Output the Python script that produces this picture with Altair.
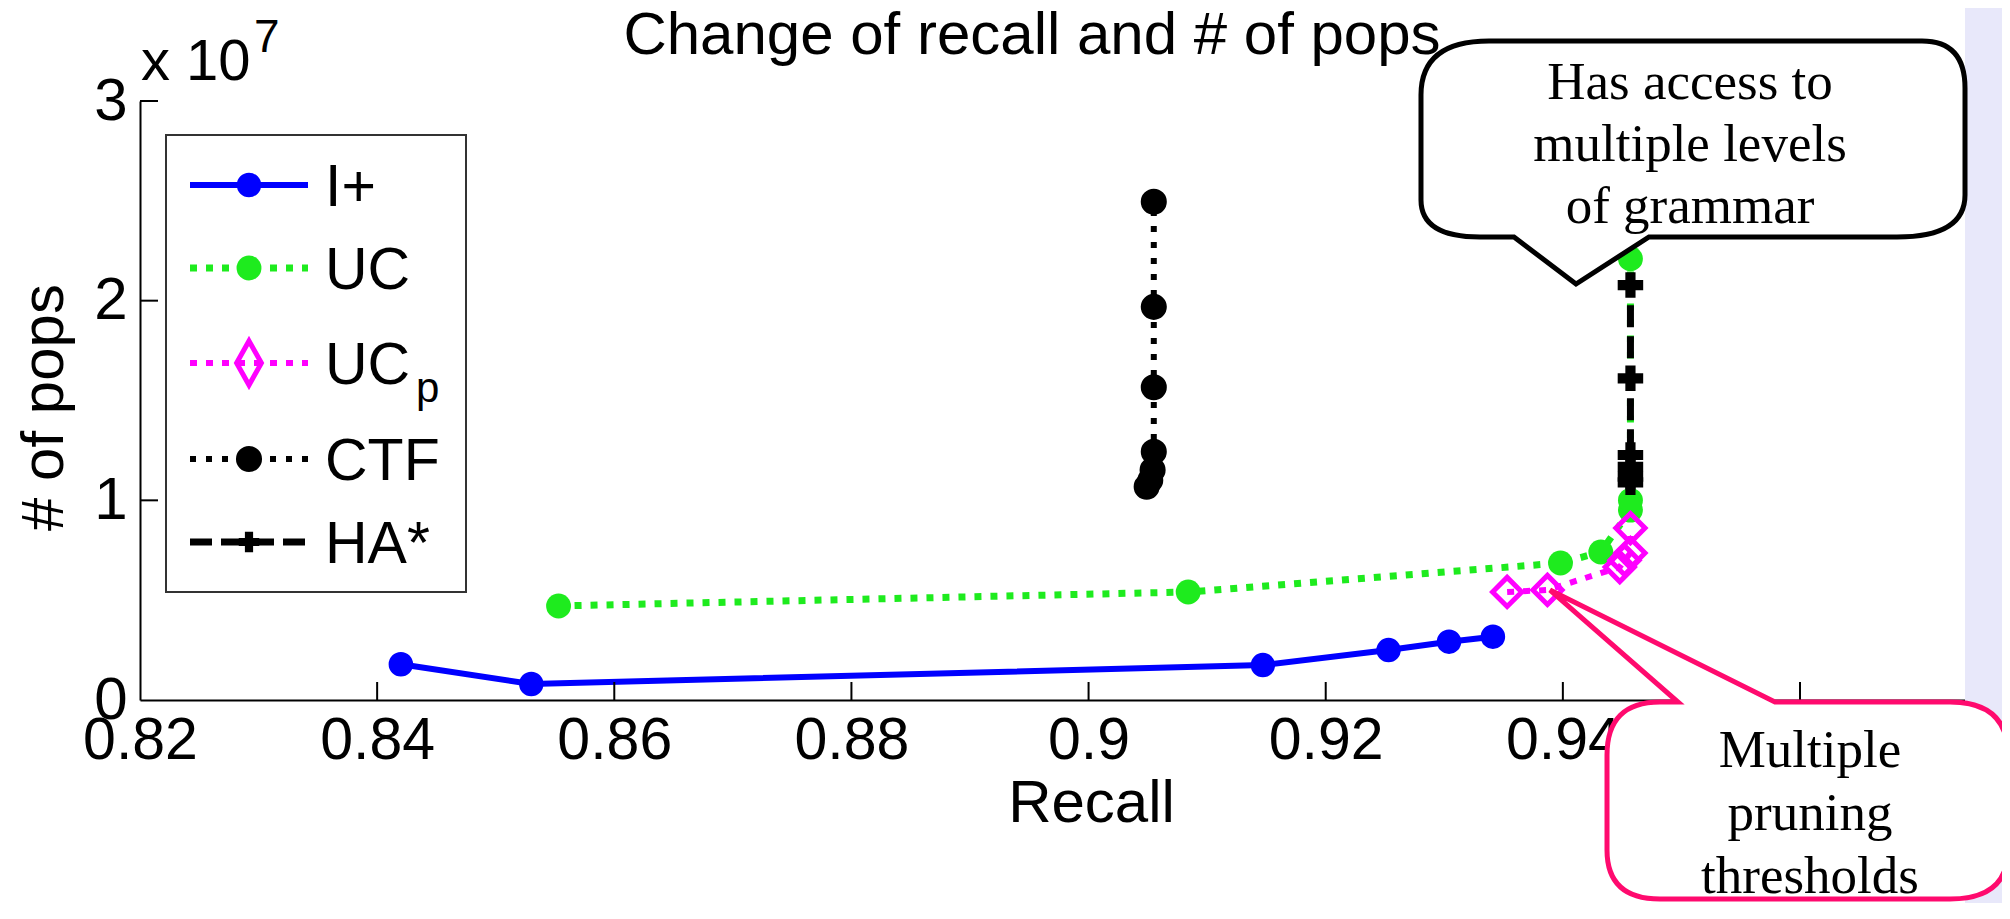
import altair as alt
import pandas as pd

# ---------------- data (recall, # of pops in units of 10^7) ----------------
series_names = ["I+", "UC", "UCp", "CTF", "HA*"]

ip_recall = [0.8420, 0.8530, 0.9147, 0.9253, 0.9304, 0.9341]
ip_pops = [0.179, 0.080, 0.175, 0.250, 0.292, 0.317]

uc_recall = [0.8553, 0.9084, 0.9398, 0.9432, 0.9457, 0.9457, 0.9457]
uc_pops = [0.471, 0.541, 0.686, 0.741, 0.951, 1.000, 2.210]

ucp_recall = [0.9353, 0.9387, 0.9448, 0.9452, 0.9457, 0.9457]
ucp_pops = [0.541, 0.551, 0.666, 0.700, 0.736, 0.861]

ctf_recall = [0.9049, 0.9052, 0.9054, 0.9055, 0.9055, 0.9055, 0.9055]
ctf_pops = [1.068, 1.100, 1.152, 1.243, 1.566, 1.969, 2.495]

ha_recall = [0.9457, 0.9457, 0.9457, 0.9457, 0.9457, 0.9457]
ha_pops = [1.090, 1.118, 1.168, 1.227, 1.611, 2.078]

x_tick_values = [0.82, 0.84, 0.86, 0.88, 0.90, 0.92, 0.94, 0.96]
y_tick_values = [0, 1, 2, 3]

# ---------------- layout / style ----------------
FONT = "Liberation Sans"
SERIF = "Liberation Serif"
W, H = 1826, 599
PAD_L, PAD_T = 132, 93
PAD_R = 1994 - PAD_L - W
PAD_B = 895 - PAD_T - H
OX, OY = 8 + PAD_L, 8 + PAD_T  # page position of plot origin


def px(X):
    return X - OX


def py(Y):
    return Y - OY


styles = {
    "I+": dict(color="#0000FF", dash=None, width=6, shape="circle", filled=True, size=600),
    "UC": dict(color="#1EEB1E", dash=[7, 9], width=7, shape="circle", filled=True, size=620),
    "UCp": dict(color="#FF00FF", dash=[7, 9], width=6, shape="diamond", filled=False, size=850),
    "CTF": dict(color="#000000", dash=[6, 10], width=6, shape="circle", filled=True, size=680),
    "HA*": dict(color="#000000", dash=[22, 9], width=7, shape="cross", filled=True, size=650),
}
series_data = {
    "I+": (ip_recall, ip_pops),
    "UC": (uc_recall, uc_pops),
    "UCp": (ucp_recall, ucp_pops),
    "CTF": (ctf_recall, ctf_pops),
    "HA*": (ha_recall, ha_pops),
}

xs = alt.Scale(domain=[0.82, 0.974], nice=False, zero=False)
ys = alt.Scale(domain=[0, 3], nice=False, zero=True)

xaxis = alt.Axis(values=x_tick_values, format=".2~f", ticks=False, labelPadding=11,
                 labelFontSize=59, labelFont=FONT, labelColor="black", labelFlush=False,
                 labelOverlap=False, domainColor="black", domainWidth=2, grid=False,
                 title="Recall", titleFont=FONT, titleFontSize=60, titleFontWeight="normal",
                 titleColor="black", titleX=951, titleY=121, titleAlign="center",
                 titleBaseline="alphabetic", titleAngle=0)
yaxis = alt.Axis(values=y_tick_values, format="d", ticks=False, labelPadding=13,
                 labelFontSize=60, labelFont=FONT, labelColor="black",
                 labelOverlap=False, domainColor="black", domainWidth=2, grid=False,
                 title="# of pops", titleFont=FONT, titleFontSize=60, titleFontWeight="normal",
                 titleColor="black", titleX=-78, titleY=306, titleAngle=270, titleAlign="center",
                 titleBaseline="alphabetic")

X = alt.X("recall:Q", scale=xs, axis=xaxis)
Y = alt.Y("pops:Q", scale=ys, axis=yaxis)

one = pd.DataFrame({"k": [0]})
layers = []

# lavender slide strip at the right
layers.append(alt.Chart(one).mark_rect(color="#E8E8FA").encode(
    x=alt.value(px(1965)), x2=alt.value(px(2010)), y=alt.value(-OY), y2=alt.value(py(919))))

# data series
for name in series_names:
    st = styles[name]
    rec, pops = series_data[name]
    df = pd.DataFrame({"recall": rec, "pops": pops, "i": list(range(len(rec)))})
    line_kw = dict(color=st["color"], strokeWidth=st["width"], strokeCap="butt")
    if st["dash"]:
        line_kw["strokeDash"] = st["dash"]
    base = alt.Chart(df).encode(x=X, y=Y, order=alt.Order("i:Q"))
    layers.append(base.mark_line(**line_kw))
    pt_kw = dict(shape=st["shape"], size=st["size"], opacity=1)
    if st["filled"]:
        pt_kw.update(filled=True, color=st["color"])
    else:
        pt_kw.update(filled=False, stroke=st["color"], strokeWidth=5)
    layers.append(base.mark_point(**pt_kw))

# inward tick marks
layers.append(alt.Chart(pd.DataFrame({"recall": x_tick_values[1:]})).mark_rule(
    color="black", strokeWidth=2).encode(x=X, y=alt.value(H), y2=alt.value(H - 18)))
layers.append(alt.Chart(pd.DataFrame({"pops": y_tick_values[1:]})).mark_rule(
    color="black", strokeWidth=2).encode(y=Y, x=alt.value(0), x2=alt.value(18)))

# legend box
layers.append(alt.Chart(one).mark_rect(fill="white", stroke="#333333", strokeWidth=2).encode(
    x=alt.value(px(166)), x2=alt.value(px(466)), y=alt.value(py(135)), y2=alt.value(py(592))))
legend_rows = [185, 268, 363, 459, 542]
legend_labels = ["I+", "UC", "UC", "CTF", "HA*"]
for name, ry, lab in zip(series_names, legend_rows, legend_labels):
    st = styles[name]
    rk = dict(color=st["color"], strokeWidth=st["width"], strokeCap="butt")
    if st["dash"]:
        rk["strokeDash"] = st["dash"]
    layers.append(alt.Chart(one).mark_rule(**rk).encode(
        x=alt.value(px(190)), x2=alt.value(px(308)), y=alt.value(py(ry))))
    shape = st["shape"]
    size = st["size"]
    if name == "UCp":
        shape = "M0,-1.6L0.9,0L0,1.6L-0.9,0Z"
        size = 760
    pk = dict(shape=shape, size=size, opacity=1)
    if st["filled"]:
        pk.update(filled=True, color=st["color"])
    else:
        pk.update(filled=False, stroke=st["color"], strokeWidth=5)
    if name == "HA*":
        pk["size"] = 420
    layers.append(alt.Chart(one).mark_point(**pk).encode(
        x=alt.value(px(249)), y=alt.value(py(ry))))
    layers.append(alt.Chart(one).mark_text(
        text=lab, font=FONT, fontSize=59, color="black", align="left", baseline="alphabetic").encode(
        x=alt.value(px(325)), y=alt.value(py(ry + 21))))
layers.append(alt.Chart(one).mark_text(
    text="p", font=FONT, fontSize=42, color="black", align="left", baseline="alphabetic").encode(
    x=alt.value(px(416)), y=alt.value(py(402))))

# title and exponent
layers.append(alt.Chart(one).mark_text(
    text="Change of recall and # of pops", font=FONT, fontSize=60, color="black",
    align="center", baseline="alphabetic").encode(x=alt.value(px(1032)), y=alt.value(py(54))))
layers.append(alt.Chart(one).mark_text(
    text="x 10", font=FONT, fontSize=58, color="black", align="left", baseline="alphabetic").encode(
    x=alt.value(px(141)), y=alt.value(py(80))))
layers.append(alt.Chart(one).mark_text(
    text="7", font=FONT, fontSize=46, color="black", align="left", baseline="alphabetic").encode(
    x=alt.value(px(254)), y=alt.value(py(52))))


# callouts as custom symbol paths
def sym_path(cmds, cx, cy, r):
    out = []
    for c in cmds:
        op = c[0]
        pts = c[1:]
        s = op
        s += " ".join("%.4f,%.4f" % ((p[0] - cx) / r, (p[1] - cy) / r) for p in pts)
        out.append(s)
    return "".join(out)


R = 300.0
black_c = (1693, 162)
black_cmds = [
    ("M", (1489, 41)), ("L", (1922, 41)), ("Q", (1965, 41), (1965, 88)), ("L", (1965, 195)),
    ("Q", (1965, 237), (1897, 237)), ("L", (1649, 237)), ("L", (1576, 284)), ("L", (1514, 237)),
    ("L", (1480, 237)), ("Q", (1421, 237), (1421, 200)), ("L", (1421, 95)),
    ("Q", (1421, 41), (1489, 41)), ("Z",),
]
pink_c = (1800, 750)
pink_cmds = [
    ("M", (1660, 702)), ("L", (1678, 702)), ("L", (1550, 590)), ("L", (1775, 702)),
    ("L", (1950, 702)), ("Q", (2008, 702), (2008, 755)), ("L", (2008, 850)),
    ("Q", (2008, 899), (1950, 899)), ("L", (1660, 899)), ("Q", (1607, 899), (1607, 850)),
    ("L", (1607, 755)), ("Q", (1607, 702), (1660, 702)), ("Z",),
]
layers.append(alt.Chart(one).mark_point(
    shape=sym_path(black_cmds, *black_c, R), size=(2 * R) ** 2, filled=True, fill="white",
    stroke="black", strokeWidth=5, opacity=1, fillOpacity=1, strokeOpacity=1).encode(
    x=alt.value(px(black_c[0])), y=alt.value(py(black_c[1]))))
layers.append(alt.Chart(one).mark_point(
    shape=sym_path(pink_cmds, *pink_c, R), size=(2 * R) ** 2, filled=True, fill="white",
    stroke="#FF0A6E", strokeWidth=5, opacity=1, fillOpacity=1, strokeOpacity=1).encode(
    x=alt.value(px(pink_c[0])), y=alt.value(py(pink_c[1]))))
layers.append(alt.Chart(one).mark_text(
    text=["Has access to", "multiple levels", "of grammar"], font=SERIF, fontSize=53,
    lineHeight=62, color="black", align="center", baseline="alphabetic").encode(
    x=alt.value(px(1690)), y=alt.value(py(99))))
layers.append(alt.Chart(one).mark_text(
    text=["Multiple", "pruning", "thresholds"], font=SERIF, fontSize=53,
    lineHeight=63, color="black", align="center", baseline="alphabetic").encode(
    x=alt.value(px(1810)), y=alt.value(py(767))))

chart = alt.layer(*layers).properties(
    width=W, height=H,
    autosize=alt.AutoSizeParams(type="none"),
    padding={"left": PAD_L, "top": PAD_T, "right": PAD_R, "bottom": PAD_B},
    background="white",
).configure_view(stroke=None)

chart.save("out.html", embed_options={"renderer": "svg", "actions": False})
